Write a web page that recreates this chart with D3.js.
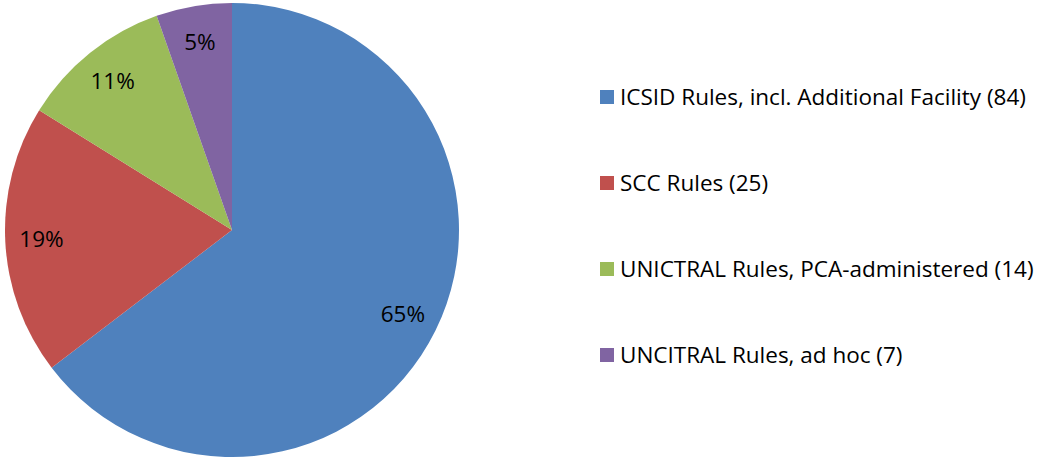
<!DOCTYPE html>
<html lang="en">
<head>
<meta charset="utf-8">
<title>Arbitration rules pie</title>
<script src="https://d3js.org/d3.v7.min.js"></script>
<style>
  body { margin: 0; background: #fff; }
  text { font-family: "Open Sans", "Noto Sans", sans-serif; fill: #000; }
</style>
</head>
<body>
<script>
const categories = [
  "ICSID Rules, incl. Additional Facility",
  "SCC Rules",
  "UNICTRAL Rules, PCA-administered",
  "UNCITRAL Rules, ad hoc"
]
const counts = [84, 25, 14, 7]
const colors = ["#4F81BD", "#C0504D", "#9BBB59", "#8064A2"]

const w = 1050, h = 457
const cx = 232, cy = 230, radius = 227

const data = categories.map((c, i) => ({ name: c, value: counts[i], color: colors[i] }))
const total = d3.sum(counts)

const svg = d3.select("body").append("svg")
  .attr("width", w)
  .attr("height", h)

const pie = d3.pie().sort(null).value(d => d.value)
const arc = d3.arc().innerRadius(0).outerRadius(radius)
const labelArc = d3.arc().innerRadius(radius * 0.84).outerRadius(radius * 0.84)

const g = svg.append("g").attr("transform", `translate(${cx},${cy})`)

const arcs = pie(data)

g.selectAll("path")
  .data(arcs)
  .enter()
  .append("path")
  .attr("d", arc)
  .attr("fill", d => d.data.color)

g.selectAll("text")
  .data(arcs)
  .enter()
  .append("text")
  .attr("transform", d => `translate(${labelArc.centroid(d)})`)
  .attr("text-anchor", "middle")
  .attr("dy", "0.35em")
  .attr("font-size", "22.5px")
  .text(d => Math.round(d.data.value / total * 100) + "%")

// legend
const legend = svg.append("g").attr("transform", "translate(600,0)")
const rowY = d3.scalePoint().domain(categories).range([97, 355])

const item = legend.selectAll("g")
  .data(data)
  .enter()
  .append("g")
  .attr("transform", d => `translate(0,${rowY(d.name)})`)

item.append("rect")
  .attr("x", 0)
  .attr("y", -7)
  .attr("width", 14)
  .attr("height", 14)
  .attr("fill", d => d.color)

item.append("text")
  .attr("x", 20)
  .attr("dy", "0.35em")
  .attr("font-size", "22.5px")
  .text(d => `${d.name} (${d.value})`)
</script>
</body>
</html>
